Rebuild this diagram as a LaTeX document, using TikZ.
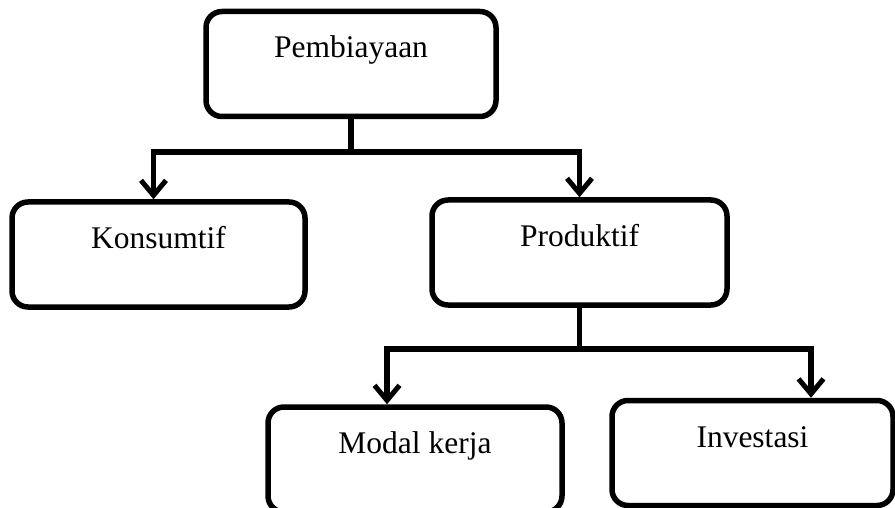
\documentclass[tikz,border=0pt]{standalone}
\usepackage{fontspec}
\setmainfont{Liberation Serif}
\usetikzlibrary{arrows.meta,calc}
\begin{document}
\begin{tikzpicture}[x=1pt,y=-1pt,
  box/.style={draw=black, line width=5.5pt, rounded corners=16pt,
    minimum height=105pt, text height=22pt, text depth=34pt,
    inner sep=0pt, font=\fontsize{31.5}{36}\selectfont},
  link/.style={draw=black, line width=5.5pt},
  tip/.style={link, -{Straight Barb[length=15pt,width=25pt,line width=5pt]}}]
  \useasboundingbox (0,0) rectangle (895,508);

  % boxes
  \node[box, minimum width=290pt] (pem) at (351,64) {Pembiayaan};
  \node[box, minimum width=293pt] (kon) at (158.5,254.5) {Konsumtif};
  \node[box, minimum width=295pt] (pro) at (579.5,252.5) {Produktif};
  \node[box, minimum width=294pt] (mod) at (415,459.5) {Modal kerja};
  \node[box, minimum width=281pt] (inv) at (752.5,453) {Investasi};

  % branch points
  \coordinate (j1) at (351,152);
  \coordinate (j2) at (579.5,349);

  % Pembiayaan -> Konsumtif / Produktif
  \draw[link] (pem.south) -- (j1);
  \draw[tip] (j1) -| ($(kon.north)+(-5,0)$);
  \draw[tip] (j1) -| (pro.north);

  % Produktif -> Modal kerja / Investasi
  \draw[link] (pro.south) -- (j2);
  \draw[tip] (j2) -| ($(mod.north)+(-28,0)$);
  \draw[tip] (j2) -| ($(inv.north)+(58.5,0)$);
\end{tikzpicture}
\end{document}
